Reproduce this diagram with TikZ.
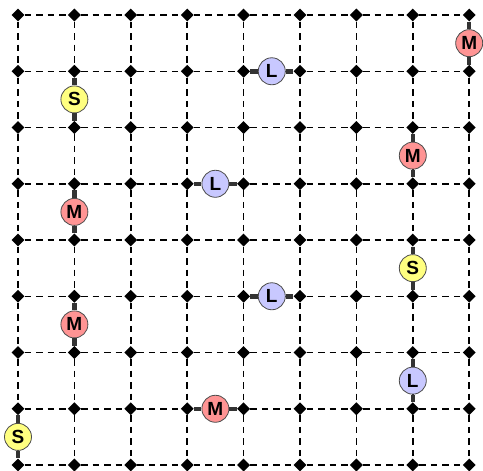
\documentclass[tikz,border=0pt]{standalone}
\usepackage{fontspec}
\usepackage{xcolor}
\usetikzlibrary{shapes.geometric}
\newfontfamily\tokenfont{Liberation Sans}
\definecolor{tkyellow}{HTML}{FFFF80}
\definecolor{tkred}{HTML}{FF9494}
\definecolor{tkblue}{HTML}{C8C8FF}
\definecolor{tkline}{HTML}{333333}

\tikzset{
  dot/.style={diamond, fill=black, minimum size=13pt, inner sep=0pt},
  gridline/.style={line width=1.5pt, dash pattern=on 6.5pt off 5pt, draw=black},
  bond/.style={line width=4.5pt, draw=tkline},
  token/.style={circle, draw=black!70, line width=0.8pt, minimum size=27pt, inner sep=0pt,
    font=\tokenfont\bfseries\fontsize{19}{19}\selectfont},
  stoken/.style={token, fill=tkyellow},
  mtoken/.style={token, fill=tkred},
  ltoken/.style={token, fill=tkblue}
}

\begin{document}
\begin{tikzpicture}[x=56.4pt, y=-56.25pt]
  \useasboundingbox (-0.319,-0.267) rectangle (8.245,8.089);
  % dots
  \foreach \i in {0,...,8}
    \foreach \j in {0,...,8}
      \node[dot] (d-\i-\j) at (\i,\j) {};
  % dashed grid
  \foreach \i in {0,...,8} {
    \foreach \j in {0,...,7} {
      \pgfmathtruncatemacro{\k}{\j+1}
      \draw[gridline] (d-\i-\j) -- (d-\i-\k);
      \draw[gridline] (d-\j-\i) -- (d-\k-\i);
    }
  }
  % tokens
  \node[stoken] (s1) at (1,1.5) {S};
  \node[mtoken] (m1) at (8,0.5) {M};
  \node[ltoken] (l1) at (4.5,1) {L};
  \node[mtoken] (m2) at (7,2.5) {M};
  \node[ltoken] (l2) at (3.5,3) {L};
  \node[mtoken] (m3) at (1,3.5) {M};
  \node[stoken] (s2) at (7,4.5) {S};
  \node[ltoken] (l3) at (4.5,5) {L};
  \node[mtoken] (m4) at (1,5.5) {M};
  \node[ltoken] (l4) at (7,6.5) {L};
  \node[mtoken] (m5) at (3.5,7) {M};
  \node[stoken] (s3) at (0,7.5) {S};
  % bonds
  \draw[bond] (d-1-1) -- (s1) -- (d-1-2);
  \draw[bond] (d-8-0) -- (m1) -- (d-8-1);
  \draw[bond] (d-4-1) -- (l1) -- (d-5-1);
  \draw[bond] (d-7-2) -- (m2) -- (d-7-3);
  \draw[bond] (d-3-3) -- (l2) -- (d-4-3);
  \draw[bond] (d-1-3) -- (m3) -- (d-1-4);
  \draw[bond] (d-7-4) -- (s2) -- (d-7-5);
  \draw[bond] (d-4-5) -- (l3) -- (d-5-5);
  \draw[bond] (d-1-5) -- (m4) -- (d-1-6);
  \draw[bond] (d-7-6) -- (l4) -- (d-7-7);
  \draw[bond] (d-3-7) -- (m5) -- (d-4-7);
  \draw[bond] (d-0-7) -- (s3) -- (d-0-8);
\end{tikzpicture}
\end{document}
